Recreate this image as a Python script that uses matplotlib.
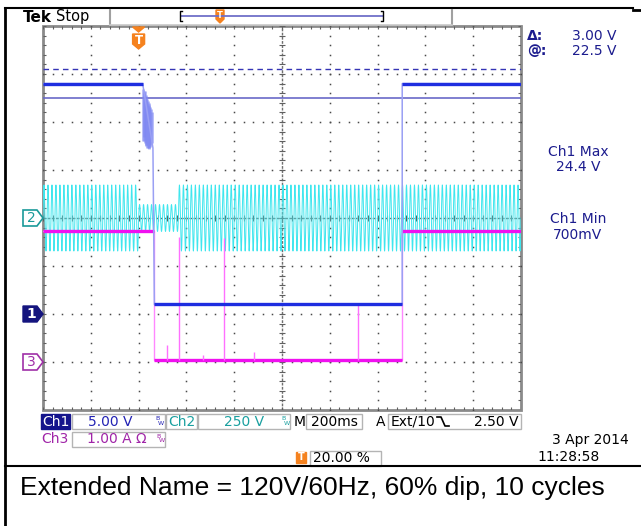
import numpy as np
import matplotlib
matplotlib.use('Agg')
import matplotlib.pyplot as plt
from matplotlib.patches import Rectangle, Polygon

# ---- scope settings ----
t_left, t_right = -0.4, 1.6        # 200 ms/div, trigger at 20 %
ch1_scale, ch1_gnd = 5.0, -2        # V/div, ground position in divisions
ch2_scale, ch2_gnd = 250.0, 0
ch3_scale, ch3_gnd = 1.0, -3

# Ch1 (blue) path: time in s, volts
ch1_t = [-0.40, 0.017, 0.060, 0.066, 1.103, 1.103, 1.60]
ch1_v = [24.0, 24.0, 17.3, 1.0, 1.0, 24.0, 24.0]
# relay chatter burst at the drop
burst_t = [0.018, 0.021, 0.024, 0.027, 0.030, 0.033, 0.036, 0.039, 0.042, 0.045, 0.048, 0.051, 0.054]
burst_hi = [23.4, 23.2, 23.0, 23.2, 22.8, 22.6, 22.4, 22.2, 22.0, 21.8, 21.6, 21.4, 21.0]
burst_lo = [18.0, 18.4, 18.0, 17.8, 17.6, 17.5, 17.3, 17.3, 17.2, 17.3, 17.4, 17.6, 17.8]

# Ch2 (cyan) mains voltage: 60 Hz, peak amplitude per window
ch2_freq = 60.0
ch2_win_start = [-0.40, 0.0, 0.1667]
ch2_win_end = [0.0, 0.1667, 1.60]
ch2_win_peak = [172.0, 70.0, 172.0]

# Ch3 (magenta) current path: time in s, amps
ch3_t = [-0.40, 0.064, 0.064, 1.102, 1.102, 1.60]
ch3_a = [2.73, 2.73, 0.04, 0.04, 2.73, 2.73]
spike_t = [0.119, 0.170, 0.269, 0.357, 0.483, 0.920]
spike_a = [0.35, 2.60, 0.15, 2.58, 0.20, 1.20]

# cursors (Ch1)
cursor_a, cursor_b = 25.5, 22.5

# ---- figure ----
fig = plt.figure(figsize=(6.41, 5.26), dpi=100)
W, H = 641, 526
gx0, gx1, gy0, gy1 = 43, 521, 26, 410
ax = fig.add_axes([gx0 / W, 1 - gy1 / H, (gx1 - gx0) / W, (gy1 - gy0) / H])
ax.set_xlim(t_left, t_right)
ax.set_ylim(-4, 4)
ax.axis('off')
ax.set_zorder(1)

dt = (t_right - t_left) / 10
gcol = '#4a4a4a'

# graticule dots
for k in range(1, 10):
    if k == 5:
        continue
    x = t_left + k * dt
    ys = np.arange(-4, 4.01, 0.2)
    ax.plot(np.full_like(ys, x), ys, ls='none', marker='s', ms=1.1, mew=0, color=gcol)
for j in range(-3, 4):
    if j == 0:
        continue
    xs = np.arange(t_left, t_right + 1e-6, dt / 5)
    ax.plot(xs, np.full_like(xs, j), ls='none', marker='s', ms=1.1, mew=0, color=gcol)

# centre cross with ticks
tc = t_left + 5 * dt
ax.plot([t_left, t_right], [0, 0], color='#707070', lw=1.0, ls=(0, (2, 1)))
ax.plot([tc, tc], [-4, 4], color='#707070', lw=1.0, ls=(0, (2, 1)))
xs = np.arange(t_left, t_right + 1e-6, dt / 5)
ax.vlines(xs, -0.06, 0.06, color='#606060', lw=0.8)
ys = np.arange(-4, 4.01, 0.2)
ax.hlines(ys, tc - 0.012, tc + 0.012, color='#606060', lw=0.8)

# frame ticks
ax.vlines(xs, -4, -3.93, color='#606060', lw=0.8)
ax.vlines(xs, 3.93, 4, color='#606060', lw=0.8)
ax.hlines(ys, t_right - 0.012, t_right, color='#606060', lw=0.8)
ax.hlines(ys, t_left, t_left + 0.012, color='#606060', lw=0.8)
ax.add_patch(Rectangle((t_left, -4), t_right - t_left, 8, fill=False,
                       ec='#8a8a8a', lw=2.0, clip_on=False))

# Ch2 waveform
tt = np.linspace(t_left, t_right, 30000)
amp = np.zeros_like(tt)
for s, e, p in zip(ch2_win_start, ch2_win_end, ch2_win_peak):
    amp[(tt >= s) & (tt <= e)] = p
v2 = amp * np.sin(2 * np.pi * ch2_freq * tt)
ax.plot(tt, v2 / ch2_scale + ch2_gnd, color='#3fe6ee', lw=0.7)

# Ch3
a3 = np.array(ch3_a) / ch3_scale + ch3_gnd
ax.plot(ch3_t, a3, color='#ff88ff', lw=1.0)
for i in range(len(ch3_t) - 1):
    if ch3_a[i] == ch3_a[i + 1]:
        ax.plot(ch3_t[i:i + 2], a3[i:i + 2], color='#f010f0', lw=2.4, solid_capstyle='butt')
ax.vlines(spike_t, 0.04 / ch3_scale + ch3_gnd, np.array(spike_a) / ch3_scale + ch3_gnd,
          color='#ff70ff', lw=1.0)

# cursors
ax.axhline(cursor_a / ch1_scale + ch1_gnd, color='#3535b5', lw=1.0, ls=(0, (4, 3)))
ax.axhline(cursor_b / ch1_scale + ch1_gnd, color='#6a6ac8', lw=1.2)

# Ch1
v1 = np.array(ch1_v) / ch1_scale + ch1_gnd
ax.vlines(burst_t, np.array(burst_lo) / ch1_scale + ch1_gnd,
          np.array(burst_hi) / ch1_scale + ch1_gnd, color='#7f88f2', lw=2.0, alpha=0.6)
ax.plot(ch1_t, v1, color='#9aa0f4', lw=1.1)
for i in range(len(ch1_t) - 1):
    if ch1_v[i] == ch1_v[i + 1]:
        ax.plot(ch1_t[i:i + 2], v1[i:i + 2], color='#1e2ee0', lw=2.4, solid_capstyle='butt')

# ---- overlay in pixel coordinates ----
bg = fig.add_axes([0, 0, 1, 1])
bg.set_xlim(0, W)
bg.set_ylim(H, 0)
bg.axis('off')
bg.patch.set_alpha(0)
bg.set_zorder(2)

# outer borders
bg.plot([5, 5], [8, H], color='black', lw=2)
bg.plot([5, 633], [8, 8], color='black', lw=1.5)
bg.plot([633, W], [10, 10], color='black', lw=2)
bg.plot([5, W], [466, 466], color='black', lw=1.5)

# header
bg.text(23, 17, 'Tek', fontsize=11, fontweight='bold', va='center', ha='left')
bg.text(56, 17, 'Stop', fontsize=10.5, va='center', ha='left')
bg.plot([110, 110], [10, 25], color='#a0a0a0', lw=1.5)
bg.plot([452, 452], [10, 25], color='#a0a0a0', lw=1.5)
bg.plot([110, 452], [24.5, 24.5], color='#c8c8c8', lw=1.2)
bg.plot([181, 383], [16, 16], color='#7070c8', lw=1.3)
bg.plot([182, 180, 180, 182], [11, 11, 21, 21], color='black', lw=1)
bg.plot([381, 383, 383, 381], [11, 11, 21, 21], color='black', lw=1)

orange = '#f5821f'
bg.add_patch(Polygon([[216, 10], [224, 10], [224, 19], [220, 23], [216, 19]], closed=True,
                     fc=orange, ec=orange))
bg.text(220, 16, 'T', fontsize=6, color='white', fontweight='bold', ha='center', va='center')

# trigger position marker on the graticule
tx = ax.transData.transform((0.0, 0))[0]
bg.add_patch(Polygon([[tx - 6, 27], [tx + 6, 27], [tx, 32]], closed=True, fc=orange, ec=orange))
bg.add_patch(Polygon([[tx - 6, 34], [tx + 6, 34], [tx + 6, 44], [tx, 49], [tx - 6, 44]],
                     closed=True, fc=orange, ec=orange))
bg.text(tx, 40.5, 'T', fontsize=8.5, color='white', fontweight='bold', ha='center', va='center')


# channel ground markers
def ground_marker(level, label, color, filled):
    y = gy0 + (4 - level) * (gy1 - gy0) / 8
    pts = [[23, y - 8], [37, y - 8], [43, y], [37, y + 8], [23, y + 8]]
    if filled:
        bg.add_patch(Polygon(pts, closed=True, fc=color, ec=color, lw=1))
        tc_ = 'white'
    else:
        bg.add_patch(Polygon(pts, closed=True, fc='white', ec=color, lw=1.2))
        tc_ = color
    bg.text(31, y + 0.5, label, fontsize=10, color=tc_, ha='center', va='center',
            fontweight='bold' if filled else 'normal')


ground_marker(ch2_gnd, '2', '#1a9a9a', False)
ground_marker(ch1_gnd, '1', '#14147e', True)
ground_marker(ch3_gnd, '3', '#a030a8', False)

# measurement readouts
navy = '#1c1c8e'
bg.text(527, 36, 'Δ:', fontsize=10, color=navy, va='center', fontweight='bold')
bg.text(617, 36, '3.00 V', fontsize=10, color=navy, va='center', ha='right')
bg.text(527, 51, '@:', fontsize=10, color=navy, va='center', fontweight='bold')
bg.text(617, 51, '22.5 V', fontsize=10, color=navy, va='center', ha='right')
bg.text(578, 152, 'Ch1 Max', fontsize=10, color=navy, va='center', ha='center')
bg.text(578, 167, '24.4 V', fontsize=10, color=navy, va='center', ha='center')
bg.text(578, 219, 'Ch1 Min', fontsize=10, color=navy, va='center', ha='center')
bg.text(578, 235, '700mV', fontsize=10, color=navy, va='center', ha='center')


# status bar
def box(x0, x1, y0, y1):
    bg.add_patch(Rectangle((x0, y0), x1 - x0, y1 - y0, fc='white', ec='#b4b4b4', lw=1))


def bw(x, y, color):
    bg.text(x, y - 3, 'B', fontsize=4.5, color=color, ha='left', va='center')
    bg.text(x + 2.5, y + 2, 'W', fontsize=4.5, color=color, ha='left', va='center')


blue_t = '#2222b4'
teal = '#1aa0a0'
purple = '#a024a8'
bg.add_patch(Rectangle((41, 414), 29, 15, fc='#14148c', ec='#14148c'))
bg.text(55.5, 421.5, 'Ch1', fontsize=10, color='white', ha='center', va='center')
box(72, 165, 414, 429)
bg.text(88, 421.5, '5.00 V', fontsize=10, color=blue_t, ha='left', va='center')
bw(155, 421.5, blue_t)
box(166, 197, 414, 429)
bg.text(181.5, 421.5, 'Ch2', fontsize=10, color=teal, ha='center', va='center')
box(198, 290, 414, 429)
bg.text(244, 421.5, '250 V', fontsize=10, color=teal, ha='center', va='center')
bw(281, 421.5, teal)
bg.text(294, 421.5, 'M', fontsize=10, color='black', ha='left', va='center')
box(306, 362, 414, 429)
bg.text(334, 421.5, '200ms', fontsize=10, color='black', ha='center', va='center')
bg.text(376, 421.5, 'A', fontsize=10, color='black', ha='left', va='center')
box(388, 521, 414, 429)
bg.text(391, 421.5, 'Ext/10', fontsize=10, color='black', ha='left', va='center')
bg.plot([437, 441, 445, 449], [417, 417, 426, 426], color='black', lw=1.2)
bg.text(518, 421.5, '2.50 V', fontsize=10, color='black', ha='right', va='center')

bg.text(41, 439, 'Ch3', fontsize=10, color=purple, ha='left', va='center')
box(72, 165, 432, 447)
bg.text(87, 439, '1.00 A Ω', fontsize=10, color=purple, ha='left', va='center')
bw(156, 439, purple)

bg.add_patch(Rectangle((296, 452), 10, 11, fc=orange, ec=orange))
bg.text(301, 457.5, 'T', fontsize=7, color='white', fontweight='bold', ha='center', va='center')
box(310, 381, 451, 466)
bg.text(313, 458, '20.00 %', fontsize=10, color='black', ha='left', va='center')

bg.text(629, 440, '3 Apr 2014', fontsize=10, color='black', ha='right', va='center')
bg.text(600, 457, '11:28:58', fontsize=10, color='black', ha='right', va='center')

bg.text(20, 488, 'Extended Name = 120V/60Hz, 60% dip, 10 cycles', fontsize=19,
        family='Liberation Sans', color='black', ha='left', va='center')

fig.savefig('out.png', dpi=100)
